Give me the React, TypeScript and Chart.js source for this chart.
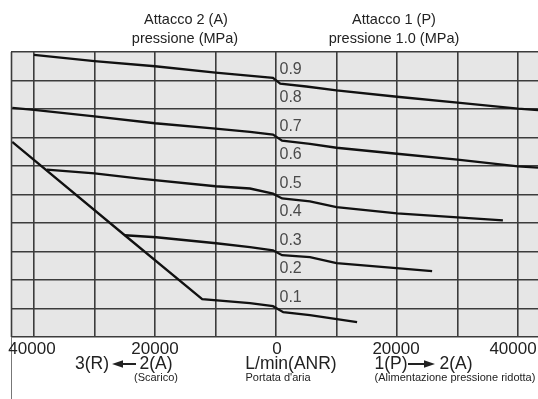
import React, { useEffect, useRef } from 'react';
import { Chart, registerables } from 'chart.js';

Chart.register(...registerables);

// ---- Data (flow in L/min(ANR): negative = 2(A)->3(R) exhaust, positive = 1(P)->2(A); pressure in MPa)
const curve09: [number, number][] = [
  [-40000, 0.99], [-30000, 0.968], [-20000, 0.95], [-10000, 0.928], [-500, 0.909],
  [700, 0.889], [5000, 0.879], [10000, 0.865], [20000, 0.843], [30000, 0.822],
  [40000, 0.801], [43300, 0.796],
];
const curve07: [number, number][] = [
  [-43600, 0.804], [-40000, 0.797], [-30000, 0.774], [-20000, 0.75], [-10000, 0.731],
  [-4300, 0.72], [-500, 0.71], [1000, 0.689], [5600, 0.678], [10000, 0.664],
  [20000, 0.643], [30000, 0.622], [40000, 0.599], [43300, 0.594],
];
const curve05: [number, number][] = [
  [-37900, 0.587], [-30000, 0.574], [-22500, 0.556], [-10000, 0.529], [-4300, 0.521],
  [-500, 0.503], [1000, 0.486], [5600, 0.476], [10000, 0.456], [20000, 0.434],
  [30000, 0.42], [37500, 0.409],
];
const curve03: [number, number][] = [
  [-25000, 0.357], [-19800, 0.35], [-9900, 0.329], [-4300, 0.315], [-500, 0.304],
  [1000, 0.287], [5600, 0.28], [10000, 0.259], [25800, 0.231],
];
const curve01: [number, number][] = [
  [-43600, 0.685], [-25000, 0.357], [-12200, 0.133], [-4300, 0.119], [-500, 0.108],
  [1200, 0.087], [5600, 0.077], [13400, 0.052],
];
const curves = [curve09, curve07, curve05, curve03, curve01];

const xMin = -43800;
const xMax = 43300;
const xGridValues = [-40000, -30000, -20000, -10000, 0, 10000, 20000, 30000, 40000];
const yGridValues = [0, 0.1, 0.2, 0.3, 0.4, 0.5, 0.6, 0.7, 0.8, 0.9, 1.0];
const xTickValues = [-40000, -20000, 0, 20000, 40000];
const xTickLabels = ['40000', '20000', '0', '20000', '40000'];
const yTickValues = [0.9, 0.8, 0.7, 0.6, 0.5, 0.4, 0.3, 0.2, 0.1];
const yTickLabels = ['0.9', '0.8', '0.7', '0.6', '0.5', '0.4', '0.3', '0.2', '0.1'];

const titleLeft = ['Attacco 2 (A)', 'pressione (MPa)'];
const titleRight = ['Attacco 1 (P)', 'pressione 1.0 (MPa)'];
const axisLeftParts = ['3(R)', '2(A)'];
const axisMid = 'L/min(ANR)';
const axisRightParts = ['1(P)', '2(A)'];
const noteLeft = '(Scarico)';
const noteMid = "Portata d'aria";
const noteRight = '(Alimentazione pressione ridotta)';

const FONT = '"Liberation Sans", Arial, sans-serif';

function drawArrow(ctx: CanvasRenderingContext2D, x1: number, x2: number, y: number, headLeft: boolean) {
  ctx.save();
  ctx.strokeStyle = '#222';
  ctx.fillStyle = '#222';
  ctx.lineWidth = 2;
  const tip = headLeft ? x1 : x2;
  const dir = headLeft ? 1 : -1;
  ctx.beginPath();
  ctx.moveTo(tip + dir * 8, y);
  ctx.lineTo(headLeft ? x2 : x1, y);
  ctx.stroke();
  ctx.beginPath();
  ctx.moveTo(tip, y);
  ctx.lineTo(tip + dir * 11, y - 3.8);
  ctx.lineTo(tip + dir * 11, y + 3.8);
  ctx.closePath();
  ctx.fill();
  ctx.restore();
}

const textPlugin = {
  id: 'textPlugin',
  beforeDraw(chart: any) {
    const { ctx, chartArea } = chart;
    ctx.save();
    ctx.fillStyle = '#e6e6e6';
    ctx.fillRect(chartArea.left, chartArea.top, chartArea.right - chartArea.left, chartArea.bottom - chartArea.top);
    ctx.restore();
  },
  afterDraw(chart: any) {
    const { ctx, chartArea } = chart;
    const xs = chart.scales.x;
    const ys = chart.scales.y;
    ctx.save();
    // left frame line (plot border continuing below the plot)
    ctx.strokeStyle = '#3c3c3c';
    ctx.lineWidth = 1.6;
    ctx.beginPath();
    ctx.moveTo(chartArea.left + 0.5, chartArea.top);
    ctx.lineTo(chartArea.left + 0.5, chartArea.bottom);
    ctx.stroke();
    ctx.strokeStyle = '#777';
    ctx.lineWidth = 1;
    ctx.beginPath();
    ctx.moveTo(chartArea.left + 0.5, chartArea.bottom);
    ctx.lineTo(chartArea.left + 0.5, chart.height);
    ctx.stroke();

    // y tick labels, inside the plot right of zero line
    ctx.fillStyle = '#4a4a4a';
    ctx.font = `16px ${FONT}`;
    ctx.textAlign = 'left';
    ctx.textBaseline = 'middle';
    const x0 = xs.getPixelForValue(0);
    yTickValues.forEach((v, i) => {
      ctx.fillText(yTickLabels[i], x0 + 3.5, ys.getPixelForValue(v) - 11);
    });

    // x tick labels
    const dx = [-2, 0, 1, -1, -5];
    ctx.fillStyle = '#222';
    ctx.font = `17px ${FONT}`;
    ctx.textAlign = 'center';
    xTickValues.forEach((v, i) => {
      ctx.fillText(xTickLabels[i], xs.getPixelForValue(v) + dx[i], chartArea.bottom + 12);
    });

    // axis captions
    ctx.font = `17.5px ${FONT}`;
    ctx.fillText(axisLeftParts[0], 92, 364);
    ctx.fillText(axisLeftParts[1], 156, 364);
    drawArrow(ctx, 112, 136, 364, true);
    ctx.fillText(axisMid, 291, 364);
    ctx.fillText(axisRightParts[0], 391, 364);
    ctx.fillText(axisRightParts[1], 456, 364);
    drawArrow(ctx, 408, 435, 364, false);
    ctx.font = `11px ${FONT}`;
    ctx.fillText(noteLeft, 156, 378);
    ctx.fillText(noteMid, 278, 378);
    ctx.fillText(noteRight, 455, 378);

    // titles
    ctx.font = `14.5px ${FONT}`;
    ctx.fillText(titleLeft[0], 186, 20);
    ctx.fillText(titleLeft[1], 185, 39);
    ctx.fillText(titleRight[0], 394, 20);
    ctx.fillText(titleRight[1], 394, 39);
    ctx.restore();
  },
};

export default function App() {
  const ref = useRef<HTMLCanvasElement>(null);
  useEffect(() => {
    if (!ref.current) return;
    const chart = new Chart(ref.current, {
      type: 'line',
      data: {
        datasets: curves.map((c) => ({
          data: c.map(([x, y]) => ({ x, y })),
          borderColor: '#111',
          borderWidth: 2.3,
          pointRadius: 0,
          fill: false,
          tension: 0,
        })),
      },
      options: {
        responsive: false,
        animation: false,
        events: [],
        layout: { padding: { left: 11, right: 0, top: 52, bottom: 62 } },
        plugins: { legend: { display: false }, tooltip: { enabled: false } },
        scales: {
          x: {
            type: 'linear',
            min: xMin,
            max: xMax,
            afterBuildTicks: (scale: any) => {
              scale.ticks = xGridValues.map((value) => ({ value }));
            },
            ticks: { display: false },
            grid: { drawTicks: false, lineWidth: 1.6, color: '#3c3c3c' },
            border: { display: false },
          },
          y: {
            type: 'linear',
            min: 0,
            max: 1,
            afterBuildTicks: (scale: any) => {
              scale.ticks = yGridValues.map((value) => ({ value }));
            },
            ticks: { display: false },
            grid: { drawTicks: false, lineWidth: 1.6, color: '#3c3c3c' },
            border: { display: false },
          },
        },
      },
      plugins: [textPlugin],
    } as any);
    return () => chart.destroy();
  }, []);
  return (
    <div style={{ position: 'absolute', left: 0, top: 0, width: 538, height: 399, background: '#fff' }}>
      <canvas ref={ref} width={538} height={399} style={{ display: 'block' }} />
    </div>
  );
}
